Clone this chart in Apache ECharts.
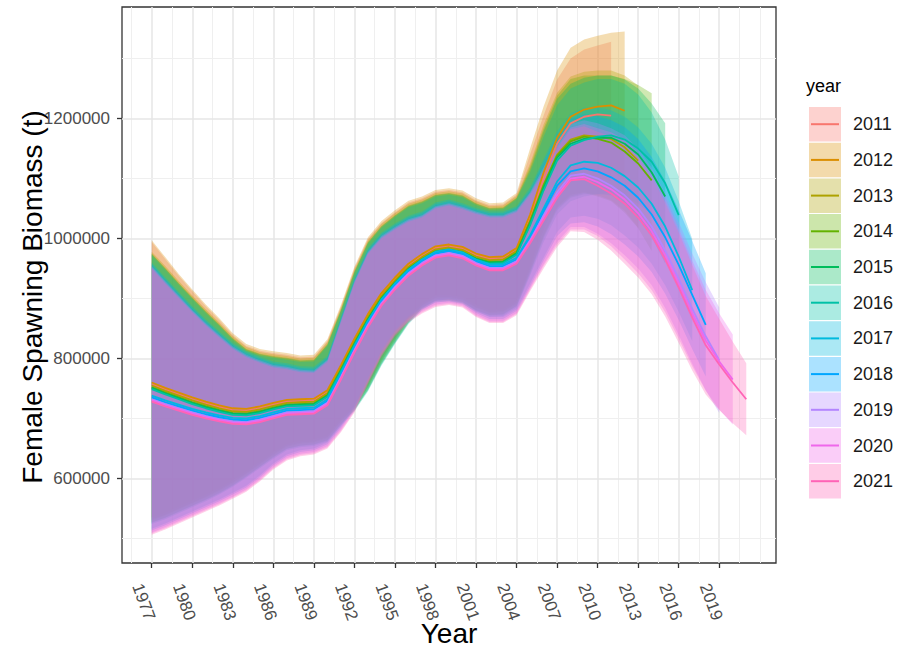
<!DOCTYPE html>
<html>
<head>
<meta charset="utf-8">
<title>Female spawning biomass by assessment year</title>
<script src="https://cdn.jsdelivr.net/npm/echarts@6.0.0/dist/echarts.min.js"></script>
<style>
  html, body { margin: 0; padding: 0; background: #ffffff; }
  #chart { width: 902px; height: 648px; }
</style>
</head>
<body>
<div id="chart"></div>
<script>
/* -------------------------------------------------------------------------- */
/*               Female spawning biomass, retrospective by run year            */
/* -------------------------------------------------------------------------- */
// every series starts in 1977; values are thousand tonnes
var years = [1977, 1978, 1979, 1980, 1981, 1982, 1983, 1984, 1985, 1986, 1987, 1988, 1989, 1990,
  1991, 1992, 1993, 1994, 1995, 1996, 1997, 1998, 1999, 2000, 2001, 2002, 2003, 2004, 2005, 2006,
  2007, 2008, 2009, 2010, 2011, 2012, 2013, 2014, 2015, 2016, 2017, 2018, 2019, 2020, 2021];
var assessments = ['2011', '2012', '2013', '2014', '2015', '2016', '2017', '2018', '2019', '2020', '2021'];
var colors = ['#F8766D', '#DB8E00', '#AEA200', '#64B200', '#00BD5C', '#00C1A7', '#00BADE', '#00A6FF', '#B385FF', '#EF67EB', '#FF63B6'];

var mean2011 = [757,748,740,732,725,719,714,713,717,723,728,729,730,744,786,830,871,906,932,955,971,984,987,983,972,966,967,981,1035,1100,1158,1192,1203,1207,1205];
var hi2011 = [994,966,938,912,887,864,839,821,813,809,806,802,803,829,886,950,999,1026,1044,1060,1067,1078,1081,1077,1064,1056,1057,1073,1140,1205,1265,1300,1315,1322,1328];
var lo2011 = [532,540,550,560,570,581,594,609,625,641,655,660,662,669,696,720,753,796,832,865,889,902,903,899,886,878,879,893,950,1014,1068,1098,1105,1103,1095];

var mean2012 = [760,751,743,735,728,722,717,716,720,726,731,732,733,747,789,833,874,909,935,958,974,987,990,986,975,969,970,984,1040,1110,1168,1203,1215,1220,1222,1213];
var hi2012 = [997,969,941,915,890,867,842,824,816,812,809,805,806,832,889,953,1002,1029,1047,1063,1070,1081,1084,1080,1067,1059,1060,1076,1150,1220,1280,1318,1332,1338,1343,1345];
var lo2012 = [535,543,553,563,573,584,597,612,628,644,658,663,665,672,699,723,756,799,835,868,892,905,906,902,889,881,882,896,955,1022,1076,1107,1115,1115,1112,1098];

var mean2013 = [755,746,738,730,723,717,712,711,715,721,726,727,728,742,784,828,869,904,930,953,969,982,985,981,970,964,965,979,1030,1090,1140,1165,1172,1170,1166,1152,1130];
var hi2013 = [978,954,929,905,882,860,837,819,811,807,804,800,801,827,884,948,997,1024,1042,1058,1065,1076,1079,1075,1062,1054,1055,1071,1125,1190,1243,1270,1278,1280,1280,1272,1255];
var lo2013 = [530,538,548,558,568,579,592,607,623,639,653,658,660,667,694,718,751,794,830,863,887,900,901,897,884,876,877,891,945,1005,1052,1073,1077,1072,1064,1046,1018];

var mean2014 = [752,743,735,727,720,714,709,708,712,718,723,724,725,739,781,825,866,901,927,950,966,979,982,978,967,961,962,976,1028,1088,1138,1162,1170,1166,1160,1145,1125,1097];
var hi2014 = [975,951,926,902,879,857,834,816,808,804,801,797,798,824,881,945,994,1021,1039,1055,1062,1073,1076,1072,1059,1051,1052,1068,1120,1184,1238,1266,1272,1272,1272,1266,1256,1242];
var lo2014 = [527,535,545,555,565,576,589,604,620,636,650,655,657,664,691,715,748,791,827,860,884,897,898,894,881,873,874,888,944,1003,1050,1070,1076,1070,1062,1043,1017,979];

var mean2015 = [751,742,734,726,719,713,708,707,711,717,722,723,724,738,780,824,865,900,926,949,965,978,981,977,966,960,961,975,1025,1085,1135,1158,1166,1168,1168,1158,1140,1110,1070];
var hi2015 = [974,950,925,901,878,856,833,815,807,803,800,796,797,823,880,944,993,1020,1038,1054,1061,1072,1075,1071,1058,1050,1051,1067,1115,1179,1233,1258,1268,1272,1272,1265,1250,1225,1192];
var lo2015 = [526,534,544,554,564,575,588,603,619,635,649,654,656,663,690,714,747,790,826,859,883,896,897,893,880,872,873,887,941,1000,1047,1068,1074,1074,1072,1058,1036,1002,958];

var mean2016 = [749,740,732,724,717,711,706,705,709,715,720,721,722,736,778,822,863,898,924,947,963,976,979,975,964,958,959,973,1022,1080,1130,1155,1164,1170,1172,1165,1150,1128,1092,1039];
var hi2016 = [972,948,923,899,876,854,831,813,805,801,798,794,795,821,878,942,991,1018,1036,1052,1059,1070,1073,1069,1056,1048,1049,1065,1110,1170,1222,1250,1260,1266,1266,1258,1240,1210,1165,1103];
var lo2016 = [524,532,542,552,562,573,586,601,617,633,647,652,654,661,688,712,745,788,824,857,881,894,895,891,878,870,871,885,938,994,1040,1062,1070,1074,1076,1070,1058,1040,1010,975];

var mean2017 = [738,730,723,716,710,705,701,700,704,710,716,717,718,732,775,820,862,898,925,948,965,978,982,977,965,957,957,968,1005,1050,1095,1122,1128,1126,1118,1104,1085,1058,1020,970,914];
var hi2017 = [960,935,911,887,865,845,826,812,803,795,792,787,786,804,870,935,984,1010,1025,1038,1045,1060,1065,1059,1051,1045,1045,1054,1085,1132,1179,1209,1218,1219,1214,1203,1185,1158,1118,1062,999];
var lo2017 = [516,525,535,545,555,565,576,588,605,625,640,647,650,660,687,720,767,813,847,870,885,896,899,895,879,869,869,882,925,968,1011,1035,1038,1033,1022,1005,985,958,922,878,829];

var mean2018 = [735,727,720,713,707,702,698,697,701,707,713,714,715,729,772,817,859,895,922,945,962,975,979,974,962,954,954,965,1000,1045,1088,1112,1117,1112,1102,1088,1068,1040,1002,956,906,856];
var hi2018 = [957,932,908,884,862,842,823,809,800,792,789,784,783,801,867,932,981,1007,1022,1035,1042,1057,1062,1056,1048,1042,1042,1051,1080,1127,1172,1199,1207,1204,1197,1186,1166,1136,1096,1048,996,942];
var lo2018 = [513,522,532,542,552,562,573,585,602,622,637,644,647,657,684,717,764,810,844,867,882,893,896,892,876,866,866,879,920,963,1004,1025,1027,1020,1007,990,970,944,908,864,816,770];

var mean2019 = [732,724,717,710,704,699,695,694,698,704,710,711,712,726,769,814,856,892,919,942,959,972,976,971,959,951,951,962,997,1038,1077,1105,1108,1100,1088,1072,1050,1020,980,933,883,837,797];
var hi2019 = [954,929,905,881,859,839,820,806,797,789,786,781,780,798,864,929,978,1004,1019,1032,1039,1054,1059,1053,1045,1039,1039,1048,1077,1119,1160,1191,1197,1192,1184,1172,1150,1118,1076,1027,975,927,885];
var lo2019 = [510,519,529,539,549,559,570,582,599,619,634,641,644,654,681,714,761,807,841,864,879,890,893,889,873,863,863,876,917,957,994,1019,1019,1008,992,972,950,922,884,839,791,747,709];

var mean2020 = [730,722,715,708,702,697,693,692,696,702,708,709,710,724,767,812,854,890,917,940,957,970,974,969,957,949,949,960,995,1034,1072,1100,1103,1094,1082,1065,1042,1012,972,925,875,830,795,765];
var hi2020 = [952,927,903,879,857,837,818,804,795,787,784,779,778,796,862,927,976,1002,1017,1030,1037,1052,1057,1051,1043,1037,1037,1046,1075,1114,1154,1185,1191,1184,1177,1165,1142,1110,1067,1017,963,914,875,840];
var lo2020 = [508,517,527,537,547,557,568,580,597,617,632,639,642,652,679,712,759,805,839,862,877,888,891,887,871,861,861,874,915,954,990,1015,1015,1004,987,965,942,914,877,833,787,746,715,690];

var mean2021 = [728,720,713,706,700,695,691,690,694,700,706,707,708,722,765,810,852,888,915,938,955,968,972,967,955,947,947,958,992,1030,1068,1097,1099,1088,1075,1058,1035,1005,965,918,868,822,790,760,732];
var hi2021 = [950,925,901,877,855,835,816,802,793,785,782,777,776,794,860,925,974,1000,1015,1028,1035,1050,1055,1049,1041,1035,1035,1044,1072,1110,1150,1182,1187,1178,1170,1158,1135,1103,1060,1010,956,904,866,828,792];
var lo2021 = [506,515,525,535,545,555,566,578,595,615,630,637,640,650,677,710,757,803,837,860,875,886,889,885,869,859,859,872,912,950,986,1012,1011,998,980,958,935,907,870,826,780,740,714,692,672];

var xTicks = [1977, 1980, 1983, 1986, 1989, 1992, 1995, 1998, 2001, 2004, 2007, 2010, 2013, 2016, 2019];
var yTicks = [600000, 800000, 1000000, 1200000];
var xMinorGrid = [1975.5, 1978.5, 1981.5, 1984.5, 1987.5, 1990.5, 1993.5, 1996.5, 1999.5, 2002.5, 2005.5, 2008.5, 2011.5, 2014.5, 2017.5, 2020.5, 2022];
var yMinorGrid = [500000, 700000, 900000, 1100000, 1300000];

var UNIT = 1000; // arrays are in thousand tonnes
var FONT = '"Liberation Sans", Arial, sans-serif';

var means = [mean2011, mean2012, mean2013, mean2014, mean2015, mean2016, mean2017, mean2018, mean2019, mean2020, mean2021];
var highs = [hi2011, hi2012, hi2013, hi2014, hi2015, hi2016, hi2017, hi2018, hi2019, hi2020, hi2021];
var lows = [lo2011, lo2012, lo2013, lo2014, lo2015, lo2016, lo2017, lo2018, lo2019, lo2020, lo2021];

document.addEventListener('DOMContentLoaded', function () {
  var chartDom = document.getElementById('chart');
  var myChart = echarts.init(chartDom, null, { renderer: 'svg' });

  // one polygon per run: upper edge left to right, lower edge back
  var ribbon = function ribbon(color) {
    return function (params, api) {
      if (params.dataIndexInside !== 0) return null;
      var top = [];
      var bottom = [];
      for (var i = 0; i < params.dataInsideLength; i++) {
        top.push(api.coord([api.value(0, i), api.value(2, i)]));
        bottom.unshift(api.coord([api.value(0, i), api.value(1, i)]));
      }
      return {
        type: 'polygon',
        shape: { points: top.concat(bottom) },
        style: { fill: color, opacity: 0.3 }
      };
    };
  };

  var gridLine = function (key, values, color, width) {
    return values.map(function (v) {
      var d = {};
      d[key] = v;
      d.lineStyle = { color: color, width: width, type: 'solid' };
      return d;
    });
  };

  var series = [{
    type: 'line',
    data: [],
    silent: true,
    z: 1,
    markLine: {
      z: 1,
      silent: true,
      symbol: ['none', 'none'],
      label: { show: false },
      animation: false,
      data: []
        .concat(gridLine('xAxis', xMinorGrid, '#EFEFEF', 1))
        .concat(gridLine('xAxis', xTicks, '#E6E6E6', 1.5))
        .concat(gridLine('yAxis', yMinorGrid, '#EFEFEF', 1))
        .concat(gridLine('yAxis', yTicks, '#E6E6E6', 1.5))
    }
  }];

  assessments.forEach(function (name, k) {
    series.push({
      type: 'custom',
      name: name,
      silent: true,
      z: 2,
      encode: { x: 0, y: [1, 2] },
      data: means[k].map(function (v, i) {
        return [years[i], lows[k][i] * UNIT, highs[k][i] * UNIT];
      }),
      renderItem: ribbon(colors[k])
    });
  });

  assessments.forEach(function (name, k) {
    series.push({
      type: 'line',
      name: name,
      silent: true,
      z: 3,
      symbol: 'none',
      showSymbol: false,
      lineStyle: { color: colors[k], width: 1.8 },
      itemStyle: { color: colors[k] },
      data: means[k].map(function (v, i) {
        return [years[i], v * UNIT];
      })
    });
  });

  // legend drawn by hand: ribbon fill with the line across it
  var legend = [{
    type: 'text',
    x: 806,
    y: 86,
    style: { text: 'year', font: '18px ' + FONT, fill: '#000000', verticalAlign: 'middle' }
  }];
  assessments.forEach(function (name, k) {
    var top = 107 + k * 35.7;
    legend.push({
      type: 'rect',
      shape: { x: 809, y: top, width: 32, height: 34.5 },
      style: { fill: colors[k], opacity: 0.33 }
    });
    legend.push({
      type: 'line',
      shape: { x1: 811, y1: top + 17.2, x2: 839, y2: top + 17.2 },
      style: { stroke: colors[k], lineWidth: 2 }
    });
    legend.push({
      type: 'text',
      x: 853,
      y: top + 17.2,
      style: { text: name, font: '18px ' + FONT, fill: '#1A1A1A', verticalAlign: 'middle' }
    });
  });

  var option = {
    animation: false,
    backgroundColor: '#ffffff',
    grid: {
      left: 122,
      right: 126,
      top: 7,
      bottom: 85,
      show: true,
      backgroundColor: '#ffffff',
      borderColor: '#333333',
      borderWidth: 1.3,
      containLabel: false,
      outerBoundsMode: 'none'
    },
    xAxis: {
      type: 'value',
      min: 1974.8,
      max: 2023.2,
      name: 'Year',
      nameLocation: 'middle',
      nameGap: 56,
      nameMoveOverlap: false,
      nameTextStyle: { fontSize: 28, color: '#000000', fontFamily: FONT },
      splitLine: { show: false },
      axisLine: { show: false },
      axisTick: {
        show: true,
        length: 5,
        customValues: xTicks,
        lineStyle: { color: '#333333', width: 1.3 }
      },
      axisLabel: {
        customValues: xTicks,
        rotate: -70,
        align: 'center',
        verticalAlign: 'top',
        margin: 36,
        fontSize: 17,
        color: '#4D4D4D',
        fontFamily: FONT,
        formatter: function (v) { return String(v); }
      }
    },
    yAxis: {
      type: 'value',
      min: 459000,
      max: 1386000,
      name: 'Female Spawning Biomass (t)',
      nameLocation: 'middle',
      nameGap: 76,
      nameMoveOverlap: false,
      nameTextStyle: { fontSize: 28, color: '#000000', fontFamily: FONT, padding: [0, 24, 0, 0] },
      splitLine: { show: false },
      axisLine: { show: false },
      axisTick: {
        show: true,
        length: 5,
        customValues: yTicks,
        lineStyle: { color: '#333333', width: 1.3 }
      },
      axisLabel: {
        customValues: yTicks,
        margin: 12,
        fontSize: 17,
        color: '#4D4D4D',
        fontFamily: FONT,
        formatter: function (v) { return String(v); }
      }
    },
    graphic: legend,
    series: series
  };

  option && myChart.setOption(option);
});
</script>
</body>
</html>
